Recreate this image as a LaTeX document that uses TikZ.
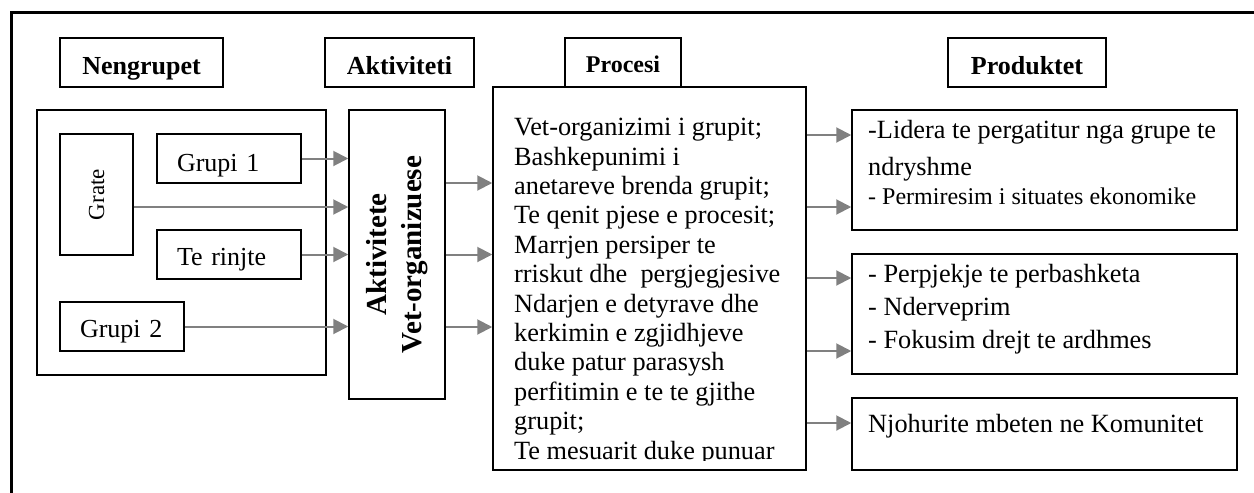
\documentclass[tikz,border=0pt]{standalone}
\usepackage{fontspec}
\setmainfont{Liberation Serif}
\usetikzlibrary{positioning,arrows.meta}

\begin{document}
\begin{tikzpicture}[x=1pt, y=-1pt,
    box/.style={draw, rectangle, line width=1.5pt, inner sep=0pt},
    head/.style={box, minimum height=49pt, text height=23pt, text depth=0pt, font=\bfseries\fontsize{26}{30}\selectfont},
    grp/.style={box, minimum height=49pt, text height=22pt, text depth=0pt, inner xsep=20pt, align=left, font=\fontsize{26}{30}\selectfont},
    txt/.style={inner sep=0pt, anchor=north west, align=left, font=\fontsize{26.3}{29.4}\selectfont},
    arr/.style={gray, line width=2pt, -{Triangle[length=15pt, width=15pt]}}]
    \useasboundingbox (0,0) rectangle (1254,493);
    \draw[line width=3.5pt] (11.5,493) -- (11.5,12.5) -- (1254,12.5);

    \node[head, minimum width=163pt] (nengrupet) at (141.5,62.5) {Nengrupet};
    \node[head, minimum width=149pt] (aktiviteti) at (399.5,62.5) {Aktiviteti};
    \node[head, minimum width=116pt, text height=19pt, font=\bfseries\fontsize{24}{28}\selectfont] (procesi) at (623,62.5) {Procesi};
    \node[head, minimum width=158pt] (produktet) at (1027,62.5) {Produktet};

    \node[box, minimum width=289pt, minimum height=265pt] (grupet) at (181.5,242.5) {};
    \node[box, minimum width=73pt, minimum height=121pt, font=\fontsize{23}{27}\selectfont] (grate) at (96.5,194.5) {\rotatebox{90}{Grate}};
    \node[grp, text width=104pt, text height=25pt] (grupi1) at (229,158.5) {Grupi 1};
    \node[grp, text width=104pt] (rinjte) at (229,254.5) {Te rinjte};
    \node[grp, text width=84pt] (grupi2) at (122,326.5) {Grupi~2};

    \node[box, minimum width=96pt, minimum height=289pt, font=\bfseries\fontsize{29}{35}\selectfont] (aktiv) at (397,254.5)
        {\rotatebox{90}{\begin{tabular}{@{}c@{}}Aktivitete\\Vet-organizuese\end{tabular}}};

    \node[box, minimum width=313pt, minimum height=383pt] (proc) at (649.5,278.5) {};
    \begin{scope}
        \clip (proc.north west) rectangle ([yshift=10pt]proc.south east);
        \node[txt] (proctxt) at (514,118) {Vet-organizimi i grupit;\\ Bashkepunimi i\\ anetareve brenda grupit;\\
            Te qenit pjese e procesit;\\ Marrjen persiper te\\ rriskut dhe~ pergjegjesive\\ Ndarjen e detyrave dhe\\
            kerkimin e zgjidhjeve\\ duke patur parasysh\\ perfitimin e te te gjithe\\ grupit;\\ Te mesuarit duke punuar};
    \end{scope}

    \node[box, minimum width=385pt, minimum height=120pt] (prod1) at (1044.5,170) {};
    \node[box, minimum width=385pt, minimum height=120pt] (prod2) at (1044.5,314) {};
    \node[box, minimum width=385pt, minimum height=72pt] (prod3) at (1044.5,434) {};
    \node[txt] (lidera) at (868,120) {-Lidera te pergatitur nga grupe te\\[7.6pt] ndryshme\\
        {\fontsize{24}{28}\selectfont - Permiresim i situates ekonomike}};
    \node[txt, font=\fontsize{26.3}{33}\selectfont] (perpjekje) at (868,264) {- Perpjekje te perbashketa\\ - Nderveprim\\ - Fokusim drejt te ardhmes};
    \node[txt] (njohurite) at (868,414) {Njohurite mbeten ne Komunitet};

    \draw[arr] (grupi1) -- (grupi1 -| aktiv.west);
    \draw[arr] ([yshift=-12.5pt]grate.east) -- ([yshift=-12.5pt]grate.east -| aktiv.west);
    \draw[arr] (rinjte) -- (rinjte -| aktiv.west);
    \draw[arr] (grupi2) -- (grupi2 -| aktiv.west);
    \foreach \dy in {71.5,0,-72.5}
        \draw[arr] ([yshift=\dy pt]aktiv.east) -- ([yshift=\dy pt]aktiv.east -| proc.west);
    \foreach \p/\dy in {prod1/35, prod1/-37, prod2/36, prod2/-37, prod3/11}
        \draw[arr] ([yshift=\dy pt]\p.west -| proc.east) -- ([yshift=\dy pt]\p.west);
\end{tikzpicture}
\end{document}
